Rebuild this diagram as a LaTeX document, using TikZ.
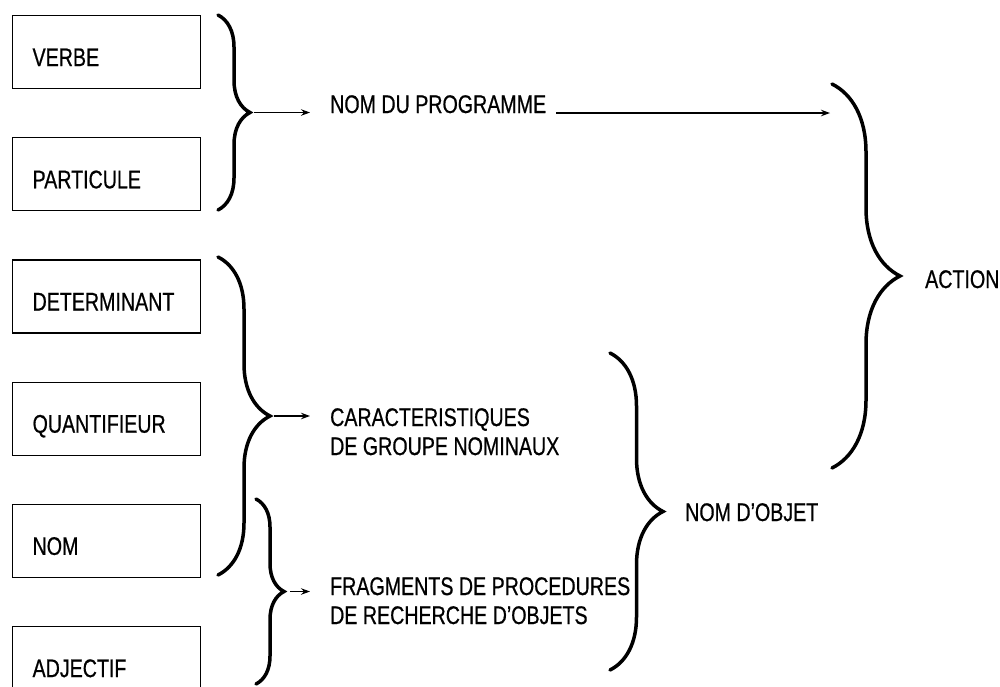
\documentclass[tikz,border=0pt]{standalone}
\usepackage{fontspec}
\setmainfont[FakeStretch=0.77,FakeBold=0.6]{Liberation Sans}
\usetikzlibrary{positioning,decorations.pathreplacing,arrows.meta}

\tikzset{
	wordbox/.style={draw, line width=1.2pt, anchor=north west, text width=148pt, inner xsep=20pt,
		minimum height=73pt, align=left, text height=28pt, text depth=0pt, font=\fontsize{25.5}{29}\selectfont},
	gloss/.style={anchor=base west, inner sep=0pt, align=left, font=\fontsize{25.5}{29}\selectfont},
	curly/.style={decorate, decoration={brace, amplitude=#1}, line width=3.5pt, line cap=round},
	feed/.style={-{Stealth[length=9pt,width=6.5pt]}, line width=1.1pt, shorten <=4pt, shorten >=20pt}
}

\begin{document}
\begin{tikzpicture}[x=1pt,y=-1pt]
	\useasboundingbox (0,0) rectangle (1000,686);
	% word classes
	\node[wordbox] (verbe) at (12,15) {VERBE};
	\node[wordbox, below=48pt of verbe] (particule) {PARTICULE};
	\node[wordbox, below=48pt of particule] (determinant) {DETERMINANT};
	\node[wordbox, below=48pt of determinant] (quantifieur) {QUANTIFIEUR};
	\node[wordbox, below=48pt of quantifieur] (nom) {NOM};
	\node[wordbox, below=48pt of nom] (adjectif) {ADJECTIF};
	
	% results
	\node[gloss] (programme) at (330,113) {NOM DU PROGRAMME};
	\node[gloss] (caracteristiques) at (330,455) {CARACTERISTIQUES\\DE GROUPE NOMINAUX};
	\node[gloss] (fragments) at (330,624) {FRAGMENTS DE PROCEDURES\\DE RECHERCHE D’OBJETS};
	\node[gloss] (objet) at (685,521) {NOM D’OBJET};
	\node[gloss] (action) at (925,288) {ACTION};
	
	% braces
	\draw[curly=32] (218,15) -- (218,210);
	\draw[curly=52] (218,257) -- (218,575);
	\draw[curly=28] (256,499) -- (256,684);
	\draw[curly=53] (610,353) -- (610,670);
	\draw[curly=68] (832,84) -- (832,468);
	\coordinate (tipprog) at (250,112.5);
	\coordinate (tipcarac) at (270,416);
	\coordinate (tipfrag) at (284,591.5);
	\coordinate (actionin) at (830,113);
	
	\draw[feed] (tipprog) -- (tipprog -| programme.west);
	\draw[feed] (tipcarac) -- (tipcarac -| caracteristiques.west);
	\draw[feed, shorten <=6pt] (tipfrag) -- (tipfrag -| fragments.west);
	\draw[feed, shorten <=10pt, shorten >=0pt] (programme.base east) -- (actionin);
\end{tikzpicture}
\end{document}
